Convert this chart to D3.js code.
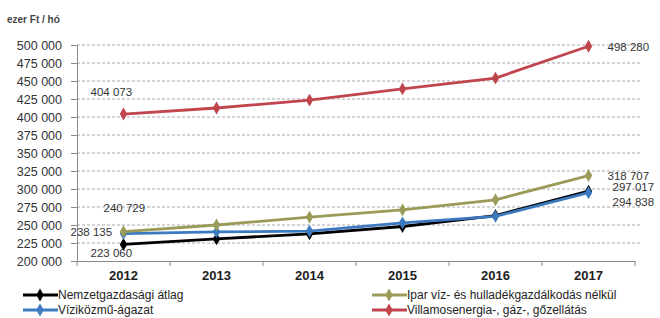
<!DOCTYPE html>
<html>
<head>
<meta charset="utf-8">
<script src="https://cdn.jsdelivr.net/npm/d3@7"></script>
<style>
  body { margin: 0; background: #fff; }
  svg { font-family: "Liberation Sans", Arial, sans-serif; }
</style>
</head>
<body>
<svg id="mysvg" width="660" height="318"></svg>
<script>
const years = ["2012", "2013", "2014", "2015", "2016", "2017"];
const yTicks = [200000, 225000, 250000, 275000, 300000, 325000, 350000, 375000, 400000, 425000, 450000, 475000, 500000];

const nemzetgazdasagi = [223060, 230664, 237695, 247924, 263171, 297017];
const vizikozmu = [238135, 240500, 241500, 253000, 262000, 294838];
const iparViz = [240729, 250000, 261000, 271000, 285000, 318707];
const villamos = [404073, 412500, 423500, 439000, 454000, 498280];

const seriesNames = ["Nemzetgazdasági átlag", "Víziközmű-ágazat", "Ipar víz- és hulladékgazdálkodás nélkül", "Villamosenergia-, gáz-, gőzellátás"];
const seriesValues = [nemzetgazdasagi, vizikozmu, iparViz, villamos];
const colors = ["#000000", "#3c7abf", "#9b9b59", "#c0454d"];

// labels shown at the ends: [series index, year index, text, dx, dy]
const endLabels = [
  [3, 0, "404 073", -33, -18],
  [3, 5, "498 280", 19, 5],
  [2, 0, "240 729", -20, -20],
  [1, 0, "238 135", -53, 2],
  [0, 0, "223 060", -33, 13],
  [2, 5, "318 707", 19, 4],
  [0, 5, "297 017", 24, 0],
  [1, 5, "294 838", 24, 13]
];

const svg = d3.select("#mysvg");
const mLeft = 77, mRight = 635, mTop = 45, mBottom = 261;

const x = d3.scaleBand().domain(years).range([mLeft, mRight]);
const y = d3.scaleLinear().domain([200000, 500000]).range([mBottom, mTop]);
const fmt = v => d3.format(",")(v).replace(/,/g, " ");

svg.append("text").attr("x", 7).attr("y", 23).attr("font-size", 10).attr("font-weight", "bold")
  .attr("fill", "#444").text("ezer Ft / hó");

// grid
svg.append("g").selectAll("line").data(yTicks.slice(1)).join("line")
  .attr("x1", mLeft).attr("x2", mRight + 5)
  .attr("y1", d => y(d)).attr("y2", d => y(d))
  .attr("stroke", "#a8a8a8").attr("stroke-dasharray", "3,2").attr("stroke-width", 1);

// y axis
const yAxis = svg.append("g").attr("transform", `translate(${mLeft},0)`)
  .call(d3.axisLeft(y).tickValues(yTicks).tickFormat(fmt).tickSize(6).tickPadding(9));
yAxis.select(".domain").attr("stroke", "#888");
yAxis.selectAll(".tick line").attr("stroke", "#888");
yAxis.selectAll("text").attr("font-size", 12.5).attr("fill", "#333");

// x axis
const xAxis = svg.append("g").attr("transform", `translate(0,${mBottom})`)
  .call(d3.axisBottom(x).tickSize(0).tickPadding(10));
xAxis.select(".domain").attr("stroke", "#888");
xAxis.selectAll("text").attr("font-size", 13).attr("font-weight", "bold").attr("fill", "#222");
xAxis.selectAll(".sep").data(years.concat(["end"])).join("line").attr("class", "sep")
  .attr("x1", (d, i) => mLeft + i * x.step()).attr("x2", (d, i) => mLeft + i * x.step())
  .attr("y1", 0).attr("y2", 5).attr("stroke", "#888");

const cx = d => x(d) + x.bandwidth() / 2;
const line = d3.line().x((d, i) => cx(years[i])).y(d => y(d));
const diamond = d3.symbol().type(d3.symbolDiamond).size(48);

seriesValues.forEach((vals, s) => {
  svg.append("path").datum(vals).attr("d", line).attr("fill", "none")
    .attr("stroke", colors[s]).attr("stroke-width", 2.8);
  svg.append("g").selectAll("path").data(vals).join("path")
    .attr("d", diamond).attr("fill", colors[s])
    .attr("transform", (d, i) => `translate(${cx(years[i])},${y(d)})`);
});

svg.append("g").selectAll("text").data(endLabels).join("text")
  .attr("x", d => cx(years[d[1]]) + d[3])
  .attr("y", d => y(seriesValues[d[0]][d[1]]) + d[4])
  .attr("font-size", 11.5).attr("fill", "#333")
  .text(d => d[2]);

// legend
const legendPos = [[23, 295], [23, 310], [372, 295], [372, 310]];
const legend = svg.append("g").selectAll("g").data(seriesNames).join("g")
  .attr("transform", (d, i) => `translate(${legendPos[i][0]},${legendPos[i][1]})`);
legend.append("line").attr("x1", 0).attr("x2", 35).attr("y1", 0).attr("y2", 0)
  .attr("stroke", (d, i) => colors[i]).attr("stroke-width", 2.8);
legend.append("path").attr("d", diamond).attr("transform", "translate(17,0)")
  .attr("fill", (d, i) => colors[i]);
legend.append("text").attr("x", 35).attr("y", 4).attr("font-size", 12).attr("fill", "#222").text(d => d);
</script>
</body>
</html>
